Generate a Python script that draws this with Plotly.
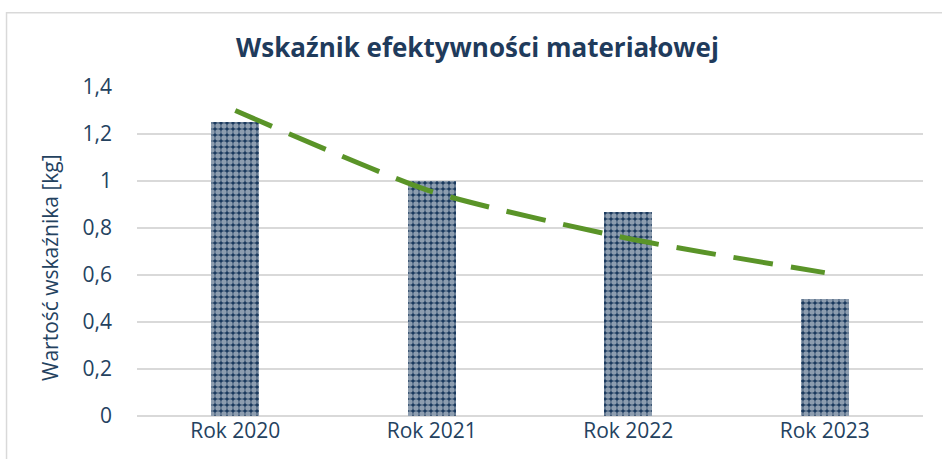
import plotly.graph_objects as go

categories = ["Rok 2020", "Rok 2021", "Rok 2022", "Rok 2023"]
values = [1.25, 1.0, 0.87, 0.5]
trend_values = [1.30, 0.955, 0.755, 0.61]
y_ticks = [0, 0.2, 0.4, 0.6, 0.8, 1.0, 1.2, 1.4]
y_tick_labels = ["0", "0,2", "0,4", "0,6", "0,8", "1", "1,2", "1,4"]

navy = "#1b3a5e"
text_color = "#24425f"
green = "#5a9428"

fig = go.Figure()
fig.add_trace(go.Bar(
    x=categories, y=values,
    width=0.245,
    marker=dict(
        color=navy,
        line=dict(width=0),
        pattern=dict(shape=".", fgcolor="white", bgcolor=navy, size=6, solidity=0.65),
    ),
    showlegend=False,
))
fig.add_trace(go.Scatter(
    x=categories, y=trend_values,
    mode="lines",
    line=dict(color=green, width=5, dash="40px,18px", shape="spline", smoothing=0.6),
    showlegend=False,
))

fig.update_layout(
    width=942, height=459,
    margin=dict(l=137, r=19, t=87, b=43),
    paper_bgcolor="white", plot_bgcolor="white",
    separators=",.",
    font=dict(family="Open Sans", color=text_color, size=21),
    title=dict(
        text="<b>Wskaźnik efektywności materiałowej</b>",
        x=477.5 / 942, xanchor="center", xref="container",
        y=1 - 48 / 459, yref="container", yanchor="middle",
        font=dict(family="Open Sans", size=26, color="#1f3b5c"),
    ),
    bargap=0,
    xaxis=dict(
        showgrid=False, showline=False, zeroline=False, ticks="",
        tickfont=dict(size=21, color=text_color),
    ),
    yaxis=dict(
        range=[0, 1.4],
        tickvals=y_ticks, ticktext=y_tick_labels,
        showgrid=True, gridcolor="#d9d9d9", gridwidth=1.5,
        zeroline=True, zerolinecolor="#d9d9d9", zerolinewidth=1.5,
        showline=False, ticks="", ticklabelstandoff=24,
        tickfont=dict(size=21, color=text_color),
    ),
    annotations=[dict(
        text="Wartość wskaźnika [kg]", textangle=-90,
        xref="paper", yref="paper", x=(50 - 137) / 786, y=(416 - 268) / 329,
        xanchor="center", yanchor="middle", showarrow=False,
        font=dict(size=21, color=text_color),
    )],
    shapes=[dict(
        type="rect", xref="paper", yref="paper",
        x0=-0.166, x1=1.2, y0=-0.5, y1=1.226,
        line=dict(color="#d9d9d9", width=1.5), fillcolor="rgba(0,0,0,0)", layer="below",
    )],
)

fig.write_html("out.html", config={"displayModeBar": False},
               post_script="document.body.style.margin='0';")
